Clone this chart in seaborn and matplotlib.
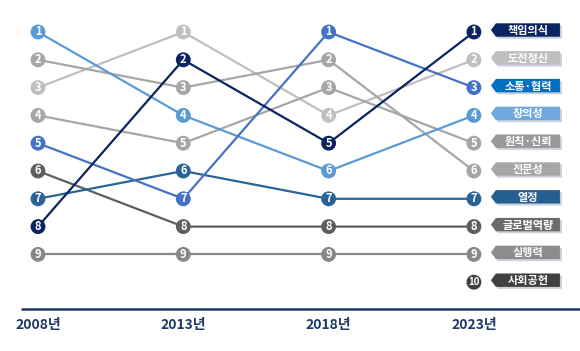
import pandas as pd
import numpy as np
import seaborn as sns
import matplotlib.pyplot as plt
import matplotlib.transforms as mtransforms
from matplotlib.patches import Polygon

# 데이터
years = ['2008년', '2013년', '2018년', '2023년']
items = ['책임의식', '도전정신', '소통·협력', '창의성', '원칙·신뢰',
         '전문성', '열정', '글로벌역량', '실행력', '사회공헌']
rank_2008 = [8, 3, 5, 1, 4, 2, 7, 6, 9, np.nan]
rank_2013 = [2, 1, 7, 4, 5, 3, 6, 8, 9, np.nan]
rank_2018 = [5, 4, 1, 6, 3, 2, 7, 8, 9, np.nan]
rank_2023 = [1, 2, 3, 4, 5, 6, 7, 8, 9, 10]

line_colors = ['#0B2361', '#BFBFBF', '#4472C4', '#5B9BD5', '#A6A6A6',
               '#A6A6A6', '#2A6496', '#5E5E5E', '#888888', '#404040']
tag_colors = ['#0B2361', '#BFBFBF', '#0070C0', '#6FA8DC', '#999999',
              '#A6A6A6', '#255E91', '#6B6B6B', '#8C8C8C', '#404040']

# 그리는 순서: 회색 먼저, 파란색 나중
draw_order = ['도전정신', '원칙·신뢰', '전문성', '실행력', '글로벌역량', '사회공헌',
              '창의성', '열정', '소통·협력', '책임의식']

rows = []
for i, it in enumerate(items):
    for j, r in enumerate([rank_2008, rank_2013, rank_2018, rank_2023]):
        rows.append({'item': it, 'x': j, 'rank': r[i]})
df = pd.DataFrame(rows).dropna()

palette = dict(zip(items, line_colors))

sns.set_style('white')
plt.rcParams['font.family'] = ['Noto Sans CJK KR', 'DejaVu Sans']

fig = plt.figure(figsize=(5.8, 3.51), dpi=100)
ax = fig.add_axes([0, 0, 1, 1])

sns.lineplot(data=df, x='x', y='rank', hue='item', hue_order=draw_order,
             palette=palette, estimator=None, sort=False, linewidth=1.6,
             legend=False, ax=ax)
sns.scatterplot(data=df, x='x', y='rank', hue='item', hue_order=draw_order,
                palette=palette, s=115, linewidth=0, legend=False, ax=ax,
                zorder=3)

# 원 안의 순위 숫자
for _, row in df.iterrows():
    r = int(row['rank'])
    ax.text(row['x'], row['rank'], str(r), ha='center', va='center',
            color='white', fontsize=7 if r >= 10 else 8, fontweight='bold',
            zorder=4)

ax.set_xlim(-0.2615, 3.73)
ax.set_ylim(12.475, -0.151)
ax.axis('off')

# 오른쪽 라벨 태그
px = 1 / 100
tag = np.array([[17, 2], [22, 8.7], [86, 8.7], [86, -4.7], [22, -4.7]]) * px
for i, it in enumerate(items):
    r = rank_2023[i]
    base = fig.dpi_scale_trans + mtransforms.ScaledTranslation(3, r, ax.transData)
    shadow = Polygon(tag + np.array([2 * px, -2 * px]), closed=True,
                     facecolor='#CBD0DA', edgecolor='none', transform=base,
                     zorder=2)
    ax.add_patch(shadow)
    ax.add_patch(Polygon(tag, closed=True, facecolor=tag_colors[i],
                         edgecolor='none', transform=base, zorder=3))
    ax.text(54 * px, -2 * px, it, transform=base, ha='center', va='baseline',
            color='white', fontsize=8, fontweight='bold', zorder=4)

# 아래 기준선과 연도
ax.axhline(10.96, xmin=22 / 580, xmax=1, color='#1F3864', linewidth=1.8)
for j, y in enumerate(years):
    ax.text(j, 11.55, y, ha='center', va='center', color='#1F3864',
            fontsize=10, fontweight='bold')

plt.savefig('out.png', dpi=100)
plt.close()
